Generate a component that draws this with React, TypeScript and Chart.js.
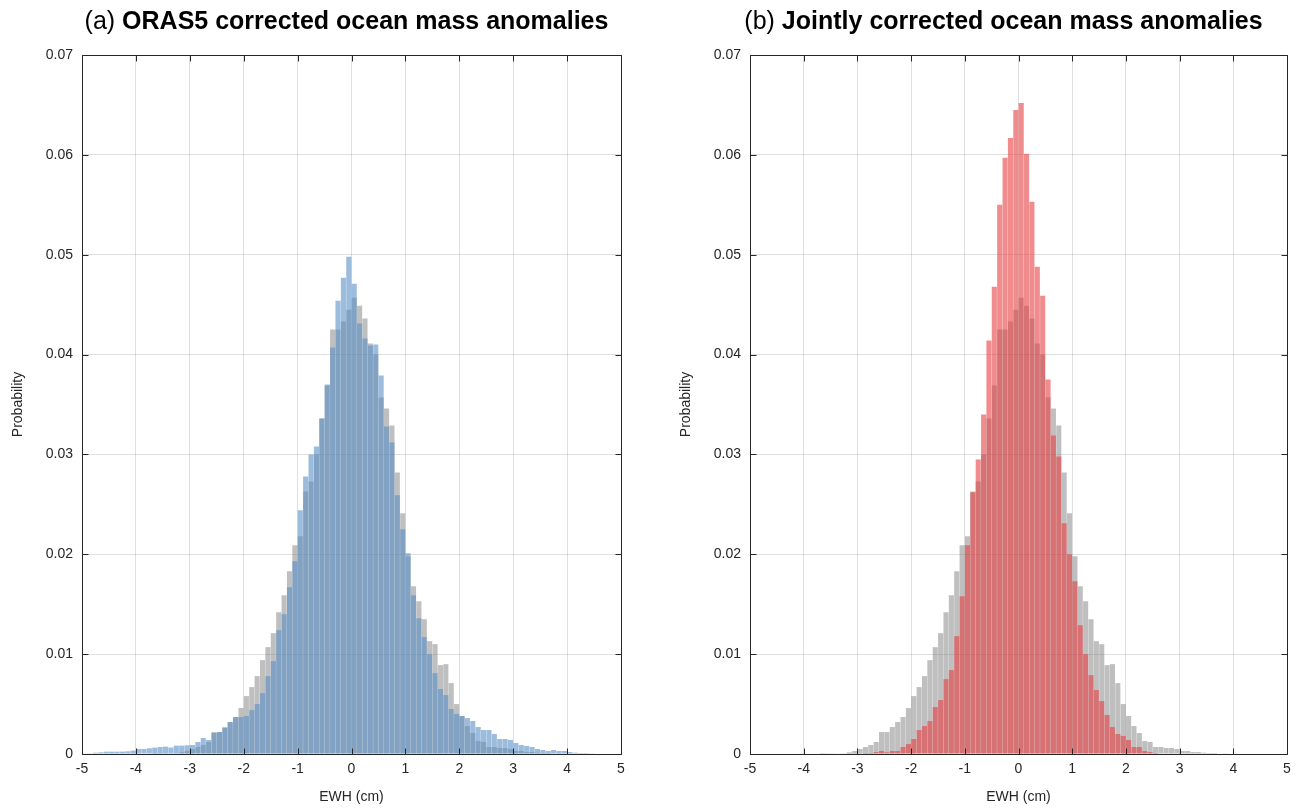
import React, { useEffect, useRef } from 'react';
import { Chart, registerables } from 'chart.js';

Chart.register(...registerables);

// ---------- data ----------
const BIN_START = -5;
const BIN_WIDTH = 0.1;
const X_TICKS = [-5, -4, -3, -2, -1, 0, 1, 2, 3, 4, 5];
const Y_TICKS = [0, 0.01, 0.02, 0.03, 0.04, 0.05, 0.06, 0.07];

// Probability per 0.1 cm bin, bins from -5.0 to 4.9 (left edges)
const ORIGINAL = [
  0, 0, 0, 0, 0, 0, 0, 0, 0, 0,
  0, 0, 0, 0.00001, 0.00002, 0.00003, 0.00004, 0.00007, 0.00017, 0.0003,
  0.0005, 0.0007, 0.0009, 0.0012, 0.0022, 0.0022, 0.0027, 0.0032, 0.0037, 0.0046,
  0.0058, 0.0067, 0.0078, 0.0094, 0.0107, 0.0121, 0.0142, 0.0159, 0.0183, 0.0209,
  0.0218, 0.0263, 0.0273, 0.0300, 0.0336, 0.0369, 0.0425, 0.0425, 0.0433, 0.0445,
  0.0457, 0.0449, 0.0436, 0.0411, 0.0400, 0.0357, 0.0346, 0.0329, 0.0282, 0.0241,
  0.0198, 0.0168, 0.0153, 0.0135, 0.0113, 0.0110, 0.0089, 0.0090, 0.0071, 0.0050,
  0.0038, 0.0028, 0.0021, 0.0013, 0.0012, 0.0007, 0.0007, 0.0006, 0.0006, 0.0005,
  0.0003, 0.0003, 0.0002, 0.0002, 0.00013, 0.0001, 0.0001, 0.00005, 0.00003, 0,
  0, 0, 0, 0, 0, 0, 0, 0, 0, 0,
];

const ORAS5_CORRECTED = [
  0.00003, 0.00007, 0.00013, 0.00017, 0.00023, 0.00023, 0.00023, 0.00024, 0.00027, 0.00034,
  0.0005, 0.0005, 0.00057, 0.00064, 0.0007, 0.00074, 0.00065, 0.00084, 0.00084, 0.00087,
  0.0009, 0.0012, 0.0016, 0.0014, 0.0021, 0.0022, 0.0026, 0.0032, 0.0037, 0.0037,
  0.0038, 0.0044, 0.0050, 0.0061, 0.0078, 0.0093, 0.0124, 0.0140, 0.0167, 0.0193,
  0.0244, 0.0278, 0.0300, 0.0308, 0.0336, 0.0370, 0.0407, 0.0454, 0.0477, 0.0498,
  0.0471, 0.0431, 0.0416, 0.0409, 0.0410, 0.0379, 0.0328, 0.0312, 0.0259, 0.0225,
  0.0201, 0.0159, 0.0136, 0.0117, 0.0100, 0.0081, 0.0065, 0.0059, 0.0045, 0.0040,
  0.0038, 0.0036, 0.0033, 0.0027, 0.0024, 0.0024, 0.0020, 0.0015, 0.0015, 0.0014,
  0.0011, 0.0009, 0.0008, 0.0007, 0.0005, 0.0004, 0.0003, 0.0004, 0.0003, 0.0003,
  0.0002, 0.00013, 0.0001, 0.0001, 0.00003, 0, 0, 0, 0, 0,
];

const JOINTLY_CORRECTED = [
  0, 0, 0, 0, 0, 0, 0, 0, 0, 0,
  0, 0, 0, 0, 0, 0, 0, 0, 0.00003, 0.00003,
  0.00003, 0.0001, 0.0001, 0.0002, 0.0003, 0.00017, 0.0003, 0.0003, 0.0007, 0.0010,
  0.0015, 0.0024, 0.0028, 0.0033, 0.0047, 0.0054, 0.0075, 0.0084, 0.0118, 0.0158,
  0.0209, 0.0262, 0.0295, 0.0340, 0.0414, 0.0468, 0.0550, 0.0597, 0.0617, 0.0645,
  0.0652, 0.0601, 0.0553, 0.0488, 0.0459, 0.0375, 0.0319, 0.0298, 0.0231, 0.0200,
  0.0173, 0.0129, 0.0100, 0.0079, 0.0064, 0.0053, 0.0039, 0.0027, 0.0020, 0.0018,
  0.0014, 0.0007, 0.0007, 0.0003, 0.0002, 0.0001, 0.00005, 0.00005, 0, 0,
  0, 0, 0, 0, 0, 0, 0, 0, 0, 0,
  0, 0, 0, 0, 0, 0, 0, 0, 0, 0,
];

// ---------- styling ----------
const FONT = "'Liberation Sans', Arial, Helvetica, sans-serif";
const AXIS_COLOR = '#262626';
const GRID_COLOR = 'rgba(38,38,38,0.15)';
const GRAY_FILL = 'rgba(128,128,128,0.5)';
const BLUE_FILL = 'rgba(88,143,197,0.6)';
const RED_FILL = 'rgba(230,63,67,0.6)';
const TICK_LEN = 6;
const TITLE_SIZE = 25;

const binCenters = (n: number) =>
  Array.from({ length: n }, (_, i) => BIN_START + BIN_WIDTH * (i + 0.5));

type PanelProps = {
  left: number;
  width: number;
  plotLeft: number;
  plotRight: number;
  prefix: string;
  boldTitle: string;
  titleShift: number;
  corrected: number[];
  color: string;
};

const PLOT_TOP = 55;
const PLOT_BOTTOM = 754;
const CANVAS_H = 808;

function Panel({ left, width, plotLeft, plotRight, prefix, boldTitle, titleShift, corrected, color }: PanelProps) {
  const ref = useRef<HTMLCanvasElement | null>(null);

  useEffect(() => {
    if (!ref.current) return;
    const centers = binCenters(ORIGINAL.length);
    const decor = {
      id: 'matlabDecor',
      afterDraw(chart: any) {
        const { ctx, chartArea } = chart;
        const xs = chart.scales.x;
        const ys = chart.scales.y;
        const l = Math.round(chartArea.left) + 0.5;
        const r = Math.round(chartArea.right) + 0.5;
        const t = Math.round(chartArea.top) + 0.5;
        const b = Math.round(chartArea.bottom) + 0.5;
        ctx.save();
        ctx.strokeStyle = AXIS_COLOR;
        ctx.lineWidth = 1;
        ctx.beginPath();
        ctx.rect(l, t, r - l, b - t);
        X_TICKS.forEach((v) => {
          const px = Math.round(xs.getPixelForValue(v)) + 0.5;
          ctx.moveTo(px, b);
          ctx.lineTo(px, b - TICK_LEN);
          ctx.moveTo(px, t);
          ctx.lineTo(px, t + TICK_LEN);
        });
        Y_TICKS.forEach((v) => {
          const py = Math.round(ys.getPixelForValue(v)) + 0.5;
          ctx.moveTo(l, py);
          ctx.lineTo(l + TICK_LEN, py);
          ctx.moveTo(r, py);
          ctx.lineTo(r - TICK_LEN, py);
        });
        ctx.stroke();

        // axis titles
        ctx.fillStyle = AXIS_COLOR;
        ctx.font = `14px ${FONT}`;
        ctx.textAlign = 'center';
        ctx.textBaseline = 'middle';
        const cx = (chartArea.left + chartArea.right) / 2;
        ctx.fillText('EWH (cm)', cx, 797);
        ctx.save();
        ctx.translate(chartArea.left - 64, (chartArea.top + chartArea.bottom) / 2);
        ctx.rotate(-Math.PI / 2);
        ctx.fillText('Probability', 0, 0);
        ctx.restore();

        // main title: normal prefix + bold text
        const normalFont = `${TITLE_SIZE}px ${FONT}`;
        const boldFont = `bold ${TITLE_SIZE}px ${FONT}`;
        ctx.font = normalFont;
        const w1 = ctx.measureText(prefix).width;
        ctx.font = boldFont;
        const w2 = ctx.measureText(boldTitle).width;
        const startX = cx + titleShift - (w1 + w2) / 2;
        ctx.textAlign = 'left';
        ctx.fillStyle = '#000000';
        ctx.font = normalFont;
        ctx.fillText(prefix, startX, 22);
        ctx.font = boldFont;
        ctx.fillText(boldTitle, startX + w1, 22);
        ctx.restore();
      },
    };

    const barStyle = {
      borderWidth: 0,
      grouped: false,
      barPercentage: 0.95,
      categoryPercentage: 1,
    };

    const chart = new Chart(ref.current, {
      type: 'bar',
      data: {
        datasets: [
          {
            label: 'corrected',
            data: centers.map((x, i) => ({ x, y: corrected[i] })),
            backgroundColor: color,
            order: 0,
            ...barStyle,
          } as any,
          {
            label: 'original',
            data: centers.map((x, i) => ({ x, y: ORIGINAL[i] })),
            backgroundColor: GRAY_FILL,
            order: 1,
            ...barStyle,
          } as any,
        ],
      },
      options: {
        responsive: false,
        animation: false,
        devicePixelRatio: 1,
        layout: {
          padding: { left: 0, right: width - plotRight, top: PLOT_TOP, bottom: 0 },
        },
        plugins: {
          legend: { display: false },
          tooltip: { enabled: false },
          title: { display: false },
        },
        scales: {
          x: {
            type: 'linear',
            min: -5,
            max: 5,
            offset: false,
            grid: { color: GRID_COLOR, lineWidth: 1, drawTicks: false, offset: false },
            border: { display: false },
            afterBuildTicks: (scale: any) => {
              scale.ticks = X_TICKS.map((v) => ({ value: v }));
            },
            afterFit: (scale: any) => {
              scale.height = CANVAS_H - PLOT_BOTTOM;
            },
            ticks: {
              padding: 7,
              color: AXIS_COLOR,
              font: { family: FONT, size: 14 },
              callback: (v: any) => String(v),
              maxRotation: 0,
            },
          },
          y: {
            type: 'linear',
            min: 0,
            max: 0.07,
            grid: { color: GRID_COLOR, lineWidth: 1, drawTicks: false },
            border: { display: false },
            afterBuildTicks: (scale: any) => {
              scale.ticks = Y_TICKS.map((v) => ({ value: v }));
            },
            afterFit: (scale: any) => {
              scale.width = plotLeft;
            },
            ticks: {
              padding: 9,
              color: AXIS_COLOR,
              font: { family: FONT, size: 14 },
              callback: (v: any) => (Number(v) === 0 ? '0' : Number(v).toFixed(2)),
            },
          },
        },
      } as any,
      plugins: [decor],
    });
    return () => chart.destroy();
  }, []);

  return (
    <canvas
      ref={ref}
      width={width}
      height={CANVAS_H}
      style={{ position: 'absolute', left, top: 0, width, height: CANVAS_H, display: 'block' }}
    />
  );
}

export default function App() {
  return (
    <div style={{ position: 'absolute', left: 0, top: 0, width: 1300, height: 808, background: '#ffffff', overflow: 'hidden' }}>
      <Panel
        left={0}
        width={660}
        plotLeft={82}
        plotRight={621}
        prefix="(a) "
        boldTitle="ORAS5 corrected ocean mass anomalies"
        titleShift={-5}
        corrected={ORAS5_CORRECTED}
        color={BLUE_FILL}
      />
      <Panel
        left={660}
        width={640}
        plotLeft={90}
        plotRight={627}
        prefix="(b) "
        boldTitle="Jointly corrected ocean mass anomalies"
        titleShift={-15}
        corrected={JOINTLY_CORRECTED}
        color={RED_FILL}
      />
    </div>
  );
}
